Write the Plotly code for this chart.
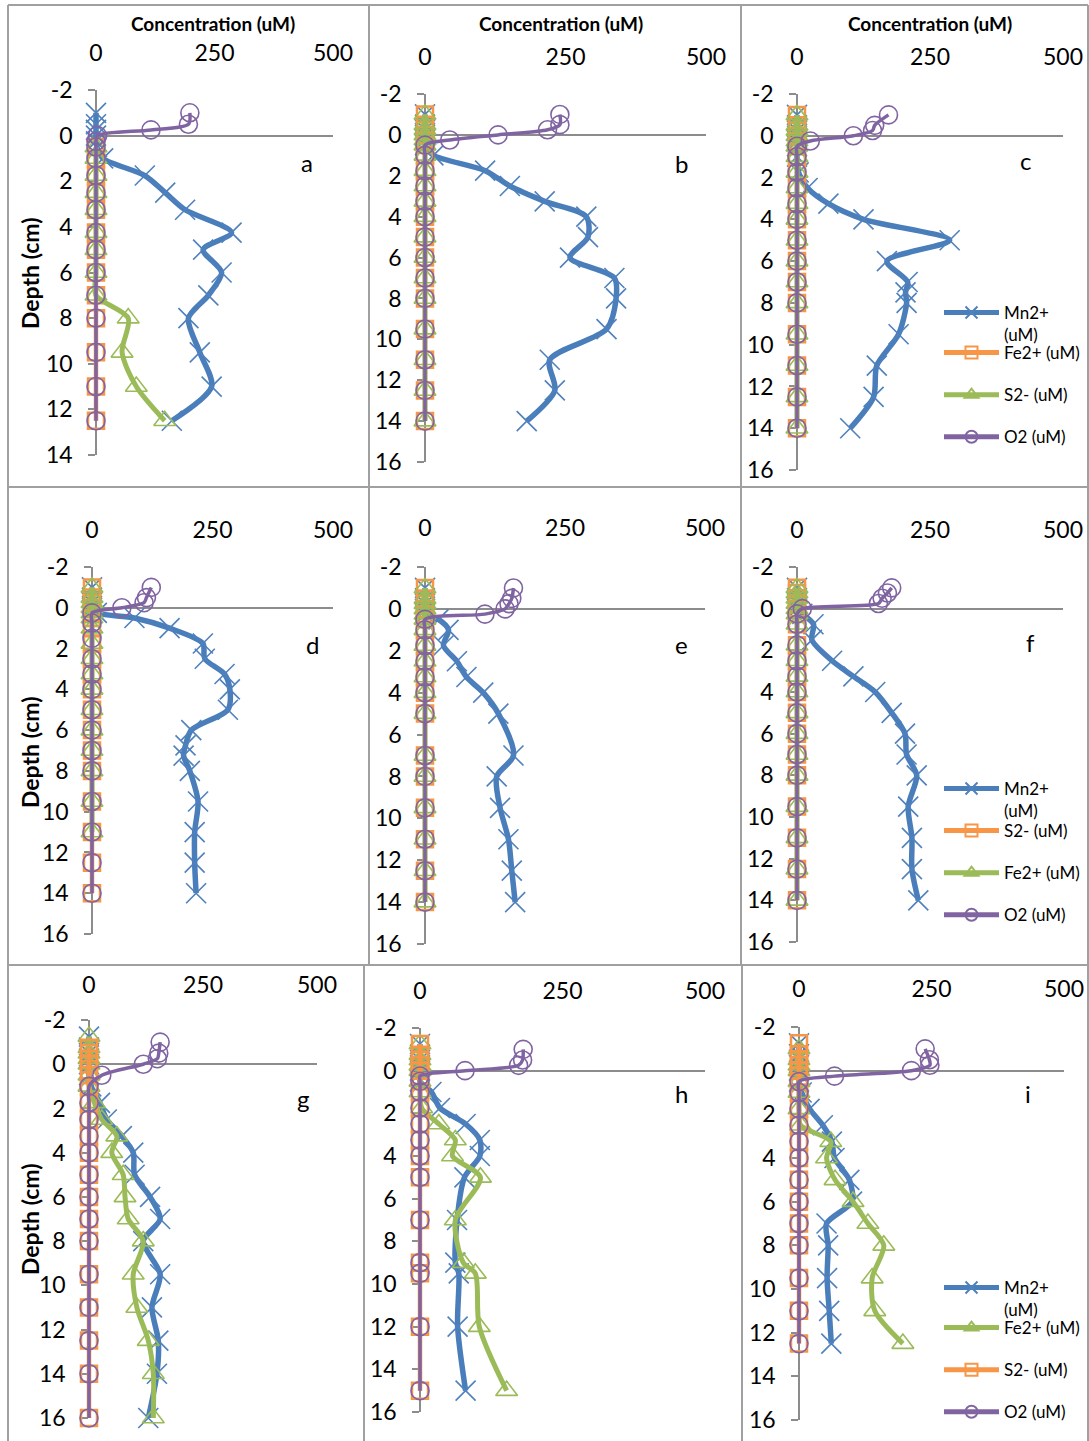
import plotly.graph_objects as go

W, H = 1089, 1441

# ---------------- data (depth in cm, concentration in uM) ----------------
# panel a
a_mn_depth = [-1, -0.5, -0.25, 0, 0.25, 0.5, 1, 1.75, 2.5, 3.25, 4.25, 5, 6, 7, 8, 9.5, 11, 12.5]
a_mn = [0, 0, 0, 0, 0, 2, 15, 103, 146, 188, 286, 226, 265, 237, 195, 219, 244, 160]
a_fe_depth = [0.5, 1, 1.75, 2.5, 3.25, 4.25, 5, 6, 7, 8, 9.5, 11, 12.5]
a_fe = [0, 0, 0, 0, 0, 0, 0, 0, 0, 0, 0, 0, 0]
a_s_depth = [0.5, 1, 1.75, 2.5, 3.25, 4.25, 5, 6, 7, 8, 9.5, 11, 12.5]
a_s = [0, 0, 0, 0, 0, 0, 0, 0, 0, 68, 55, 85, 145]
a_o2_depth = [-1, -0.5, -0.25, 0, 0.25, 0.5, 1, 1.75, 2.5, 3.25, 4.25, 5, 6, 7, 8, 9.5, 11, 12.5]
a_o2 = [198, 195, 116, 3, 0, 0, 0, 0, 0, 0, 0, 0, 0, 0, 0, 0, 0, 0]

# panel b
b_mn_depth = [-1, -0.5, -0.25, 0, 0.25, 0.5, 1, 1.75, 2.5, 3.25, 4, 5, 6, 7, 8, 9.5, 11, 12.5, 14]
b_mn = [0, 0, 0, 0, 0, 0, 15, 107, 151, 213, 287, 290, 258, 337, 340, 323, 222, 231, 181]
b_fe_depth = [-1, -0.5, -0.25, 0, 0.25, 0.5, 1, 1.75, 2.5, 3.25, 4, 5, 6, 7, 8, 9.5, 11, 12.5, 14]
b_fe = [0] * 19
b_s_depth = [-1, -0.5, -0.25, 0, 0.25, 0.5, 1, 1.75, 2.5, 3.25, 4, 5, 6, 7, 8, 9.5, 11, 12.5, 14]
b_s = [0] * 19
b_o2_depth = [-1, -0.5, -0.25, 0, 0.25, 0.5, 1, 1.75, 2.5, 3.25, 4, 5, 6, 7, 8, 9.5, 11, 12.5, 14]
b_o2 = [240, 240, 218, 130, 44, 0, 0, 0, 0, 0, 0, 0, 0, 0, 0, 0, 0, 0, 0]

# panel c
c_mn_depth = [-1, -0.5, -0.25, 0, 0.25, 0.5, 1, 1.75, 2.5, 3.25, 4, 5, 6, 7, 7.5, 8, 9.5, 11, 12.5, 14]
c_mn = [0, 0, 0, 0, 0, 0, 0, 3, 20, 59, 125, 287, 169, 208, 204, 206, 191, 150, 144, 100]
c_fe_depth = [-1, -0.5, -0.25, 0, 0.25, 0.5, 1, 1.75, 2.5, 3.25, 4, 5, 6, 7, 8, 9.5, 11, 12.5, 14]
c_fe = [0] * 19
c_s_depth = [-1, -0.5, -0.25, 0, 0.25, 0.5, 1, 1.75, 2.5, 3.25, 4, 5, 6, 7, 8, 9.5, 11, 12.5, 14]
c_s = [0] * 19
c_o2_depth = [-1, -0.5, -0.25, 0, 0.25, 0.5, 1, 1.75, 2.5, 3.25, 4, 5, 6, 7, 8, 9.5, 11, 12.5, 14]
c_o2 = [172, 146, 142, 106, 25, 0, 0, 0, 0, 0, 0, 0, 0, 0, 0, 0, 0, 0, 0]

# panel d
d_mn_depth = [-1, -0.5, -0.25, 0, 0.25, 0.5, 1, 1.75, 2.5, 3.25, 4, 5, 6, 6.75, 7.25, 8, 9.5, 11, 12.5, 14]
d_mn = [0, 0, 0, 0, 10, 88, 161, 230, 234, 275, 286, 282, 206, 194, 190, 203, 220, 213, 213, 216]
d_s_depth = [-1, -0.5, -0.25, 0, 0.25, 0.5, 1, 1.75, 2.5, 3.25, 4, 5, 6, 7, 8, 9.5, 11, 12.5, 14]
d_s = [0] * 19
d_fe_depth = [-1, -0.5, -0.25, 0, 0.25, 0.5, 1, 1.75, 2.5, 3.25, 4, 5, 6, 7, 8, 9.5, 11]
d_fe = [0] * 17
d_o2_depth = [-1, -0.5, -0.25, 0, 0.25, 0.75, 1.5, 2.5, 3.25, 4, 5, 6, 7, 8, 9.5, 11, 12.5, 14]
d_o2 = [123, 113, 108, 62, 0, 0, 0, 0, 0, 0, 0, 0, 0, 0, 0, 0, 0, 0]

# panel e
e_mn_depth = [-1, -0.5, -0.25, 0, 0.25, 0.5, 1, 1.75, 2.5, 3.25, 4, 5, 7, 8, 9.5, 11, 12.5, 14]
e_mn = [0, 0, 0, 0, 0, 24, 42, 33, 57, 74, 104, 131, 158, 128, 134, 149, 155, 161]
e_s_depth = [-1, -0.5, -0.25, 0, 0.25, 0.5, 1, 1.75, 2.5, 3.25, 4, 5, 7, 8, 9.5, 11, 12.5, 14]
e_s = [0] * 18
e_fe_depth = [-1, -0.5, -0.25, 0, 0.25, 0.5, 1, 1.75, 2.5, 3.25, 4, 5, 7, 8, 9.5, 11, 12.5, 14]
e_fe = [0] * 18
e_o2_depth = [-1, -0.5, -0.25, 0, 0.25, 0.5, 1, 1.75, 2.5, 3.25, 4, 5, 7, 8, 9.5, 11, 12.5, 14]
e_o2 = [158, 155, 150, 143, 107, 0, 0, 0, 0, 0, 0, 0, 0, 0, 0, 0, 0, 0]

# panel f
f_mn_depth = [-1, -0.5, -0.25, 0, 0.25, 0.75, 1.5, 2.5, 3.25, 4, 5, 6, 7, 8, 9.5, 11, 12.5, 14]
f_mn = [0, 0, 0, 0, 10, 31, 28, 66, 106, 147, 178, 203, 206, 225, 209, 216, 216, 228]
f_s_depth = [-1, -0.75, -0.5, -0.25, 0, 0.25, 0.75, 1.75, 2.5, 3.25, 4, 5, 6, 7, 8, 9.5, 11, 12.5, 14]
f_s = [0] * 19
f_fe_depth = [-1, -0.75, -0.5, -0.25, 0, 0.25, 0.75, 1.75, 2.5, 3.25, 4, 5, 6, 7, 8, 9.5, 11, 12.5, 14]
f_fe = [0] * 19
f_o2_depth = [-1, -0.75, -0.5, -0.25, 0, 0.25, 0.75, 1.75, 2.5, 3.25, 4, 5, 6, 7, 8, 9.5, 11, 12.5, 14]
f_o2 = [178, 170, 160, 153, 10, 0, 0, 0, 0, 0, 0, 0, 0, 0, 0, 0, 0, 0, 0]

# panel g
g_mn_depth = [-1.25, -0.75, -0.5, -0.25, 0, 0.5, 1, 1.75, 2.5, 3.25, 4, 5, 6, 7, 8, 9.5, 11, 12.5, 14, 16]
g_mn = [0, 0, 0, 0, 0, 0, 5, 24, 39, 72, 97, 100, 134, 156, 119, 156, 138, 152, 149, 130]
g_fe_depth = [-1.25, -0.75, -0.5, -0.25, 0, 0.5, 1, 1.75, 2.5, 3.25, 4, 5, 6, 7, 8, 9.5, 11, 12.5, 14, 16]
g_fe = [0, 0, 0, 0, 0, 0, 0, 12, 28, 61, 50, 75, 79, 86, 119, 97, 105, 130, 141, 141]
g_s_depth = [-0.75, -0.5, -0.25, 0, 0.5, 1, 1.75, 2.5, 3.25, 4, 5, 6, 7, 8, 9.5, 11, 12.5, 14, 16]
g_s = [0] * 19
g_o2_depth = [-1, -0.5, -0.25, 0, 0.5, 1, 1.75, 2.5, 3.25, 4, 5, 6, 7, 8, 9.5, 11, 12.5, 14, 16]
g_o2 = [156, 153, 150, 119, 28, 0, 0, 0, 0, 0, 0, 0, 0, 0, 0, 0, 0, 0, 0]

# panel h
h_mn_depth = [-1.25, -0.75, -0.5, -0.25, 0, 0.5, 1, 1.75, 2.5, 3.25, 4, 5, 7, 9, 9.5, 12, 15]
h_mn = [0, 0, 0, 0, 0, 0, 20, 35, 80, 105, 105, 78, 65, 62, 68, 66, 80]
h_fe_depth = [-1.25, -0.75, -0.5, -0.25, 0, 0.5, 1, 1.75, 2.5, 3.25, 4, 5, 7, 9, 9.5, 12, 15]
h_fe = [0, 0, 0, 0, 0, 0, 0, 3, 33, 62, 57, 106, 62, 76, 97, 104, 152]
h_s_depth = [-1.25, -0.75, -0.5, -0.25, 0, 0.5, 1, 1.75, 2.5, 3.25, 4, 5, 7, 9, 9.5, 12, 15]
h_s = [0] * 17
h_o2_depth = [-1, -0.5, -0.25, 0, 0.25, 0.5, 1, 1.75, 2.5, 3.25, 4, 5, 7, 9, 9.5, 12, 15]
h_o2 = [181, 180, 173, 79, 0, 0, 0, 0, 0, 0, 0, 0, 0, 0, 0, 0, 0]

# panel i
i_mn_depth = [-1.25, -0.75, -0.5, -0.25, 0, 0.5, 1, 1.75, 2.5, 3.25, 4, 5, 6, 7, 8, 9.5, 11, 12.5]
i_mn = [0, 0, 0, 0, 0, 0, 5, 20, 45, 62, 67, 95, 100, 52, 55, 53, 57, 61]
i_fe_depth = [-1, -0.5, -0.25, 0, 0.5, 1, 1.75, 2.5, 3.25, 4, 5, 6, 7, 8, 9.5, 11, 12.5]
i_fe = [0, 0, 0, 0, 0, 0, 0, 3, 60, 52, 68, 102, 130, 160, 138, 143, 196]
i_s_depth = [-1.25, -0.75, -0.5, -0.25, 0, 0.5, 1, 1.75, 2.5, 3.25, 4, 5, 6, 7, 8, 9.5, 11, 12.5]
i_s = [0] * 18
i_o2_depth = [-1, -0.5, -0.25, 0, 0.25, 0.5, 1, 1.75, 2.5, 3.25, 4, 5, 6, 7, 8, 9.5, 11, 12.5]
i_o2 = [238, 246, 247, 212, 67, 0, 0, 0, 0, 0, 0, 0, 0, 0, 0, 0, 0, 0]

x_ticks = [0, 250, 500]
x_tick_text = ["0", "250", "500"]
panel_labels = ["a", "b", "c", "d", "e", "f", "g", "h", "i"]

# series names in each row (in legend / plotting order) with their style keys
row1_series = [("Mn2+ (uM)", "blue"), ("Fe2+ (uM)", "orange"), ("S2- (uM)", "green"), ("O2 (uM)", "purple")]
row2_series = [("Mn2+ (uM)", "blue"), ("S2- (uM)", "orange"), ("Fe2+ (uM)", "green"), ("O2 (uM)", "purple")]
row3_series = [("Mn2+ (uM)", "blue"), ("Fe2+ (uM)", "green"), ("S2- (uM)", "orange"), ("O2 (uM)", "purple")]

panel_data = {
    "a": [(a_mn_depth, a_mn), (a_fe_depth, a_fe), (a_s_depth, a_s), (a_o2_depth, a_o2)],
    "b": [(b_mn_depth, b_mn), (b_fe_depth, b_fe), (b_s_depth, b_s), (b_o2_depth, b_o2)],
    "c": [(c_mn_depth, c_mn), (c_fe_depth, c_fe), (c_s_depth, c_s), (c_o2_depth, c_o2)],
    "d": [(d_mn_depth, d_mn), (d_s_depth, d_s), (d_fe_depth, d_fe), (d_o2_depth, d_o2)],
    "e": [(e_mn_depth, e_mn), (e_s_depth, e_s), (e_fe_depth, e_fe), (e_o2_depth, e_o2)],
    "f": [(f_mn_depth, f_mn), (f_s_depth, f_s), (f_fe_depth, f_fe), (f_o2_depth, f_o2)],
    "g": [(g_mn_depth, g_mn), (g_fe_depth, g_fe), (g_s_depth, g_s), (g_o2_depth, g_o2)],
    "h": [(h_mn_depth, h_mn), (h_fe_depth, h_fe), (h_s_depth, h_s), (h_o2_depth, h_o2)],
    "i": [(i_mn_depth, i_mn), (i_fe_depth, i_fe), (i_s_depth, i_s), (i_o2_depth, i_o2)],
}
row_series = {"a": row1_series, "b": row1_series, "c": row1_series,
              "d": row2_series, "e": row2_series, "f": row2_series,
              "g": row3_series, "h": row3_series, "i": row3_series}

# ---------------- styling / geometry ----------------
FONT = "Lato"
GRAY = "#8c8c8c"
BORDER = "#a0a0a0"
STYLE = {
    "blue":   dict(color="#4A7EBB", width=5.5, symbol="x-thin", size=20, mw=1.6, mcolor="#4F81BD"),
    "orange": dict(color="#F79646", width=4.5, symbol="square-open", size=16, mw=2.5, mcolor="#F79646"),
    "green":  dict(color="#9BBB59", width=5, symbol="triangle-up-open", size=19, mw=1.6, mcolor="#9BBB59"),
    "purple": dict(color="#8064A2", width=3.5, symbol="circle-open", size=18, mw=1.6, mcolor="#8064A2"),
}

# pixel geometry per panel: x of value 0, x of value 500, y of depth -2, y of max depth, max depth,
# y centre of top tick labels, letter position
GEOM = {
    "a": (96, 333, 90, 455, 14, 55, (307, 162)),
    "b": (425, 706, 94, 462, 16, 59, (681, 163)),
    "c": (797, 1063, 94, 470, 16, 59, (1025, 160)),
    "d": (92, 333, 567, 934, 16, 532, (312, 644)),
    "e": (425, 705, 567, 944, 16, 530, (681, 645)),
    "f": (797, 1063, 567, 942, 16, 532, (1030, 642)),
    "g": (89, 317, 1020, 1418, 16, 987, (303, 1098)),
    "h": (420, 705, 1028, 1412, 16, 993, (681, 1093)),
    "i": (799, 1064, 1027, 1420, 16, 991, (1028, 1093)),
}
LEGEND_PANELS = {"c": (313, 353), "f": (789, 831), "i": (1288, 1328)}


def px(x):
    return x / W


def py(y):
    return 1 - y / H


fig = go.Figure()
layout = {}
annotations = []
legend_count = 0

for n, key in enumerate(panel_labels, start=1):
    x0, x5, ytop, ybot, ymax, xlab, (lx, ly) = GEOM[key]
    xa = "x" if n == 1 else f"x{n}"
    ya = "y" if n == 1 else f"y{n}"
    in_legend = key in LEGEND_PANELS
    if in_legend:
        leg_mn = "legend" if legend_count == 0 else f"legend{legend_count + 1}"
        leg_rest = f"legend{legend_count + 2}"
        mn_y, rest_y = LEGEND_PANELS[key]
        common = dict(x=px(939), xanchor="left", yanchor="top", xref="container", yref="container",
                      bgcolor="rgba(0,0,0,0)", font=dict(family=FONT, size=17, color="#000"),
                      itemwidth=55, itemsizing="constant")
        layout[leg_mn] = dict(y=py(mn_y - 18), valign="top", **common)
        layout[leg_rest] = dict(y=py(rest_y - 18), tracegroupgap=17, **common)
        legend_count += 2
    for j, ((depths, vals), (name, skey)) in enumerate(zip(panel_data[key], row_series[key])):
        st = STYLE[skey]
        shown_name = name.replace("Mn2+ ", "Mn2+<br>") if j == 0 else name
        trace_kwargs = dict(
            x=vals, y=depths, xaxis=xa, yaxis=ya, mode="lines+markers",
            name=shown_name, showlegend=in_legend, legendgroup=f"{key}{j}",
            line=dict(color=st["color"], width=st["width"], shape="spline", smoothing=0.8),
            marker=dict(symbol=st["symbol"], size=st["size"], color=st["mcolor"],
                        line=dict(color=st["mcolor"], width=st["mw"])),
            cliponaxis=False,
        )
        if in_legend:
            trace_kwargs["legend"] = leg_mn if j == 0 else leg_rest
        fig.add_trace(go.Scatter(**trace_kwargs))

    upx = (x5 - x0) / 500.0
    xpad = 5 / upx
    yticks = list(range(-2, ymax + 1, 2))
    layout["xaxis" if n == 1 else f"xaxis{n}"] = dict(
        domain=[px(x0 - 5), px(x5)], range=[-xpad, 500], anchor="free",
        position=py(xlab + 11), side="top", showline=False, ticks="",
        tickvals=x_ticks, ticktext=x_tick_text, showgrid=False, zeroline=False,
        tickfont=dict(family=FONT, size=23, color="#000"), fixedrange=True)
    layout["yaxis" if n == 1 else f"yaxis{n}"] = dict(
        domain=[py(ybot), py(ytop)], range=[ymax, -2], anchor="free", position=px(x0),
        showline=True, linecolor=GRAY, linewidth=1.5, ticks="outside", ticklen=7,
        tickwidth=1.5, tickcolor=GRAY, tickvals=yticks, ticktext=[str(t) for t in yticks],
        showgrid=False, zeroline=True, zerolinecolor=GRAY, zerolinewidth=1.5,
        tickfont=dict(family=FONT, size=23, color="#000"), ticklabelstandoff=11,
        layer="below traces", fixedrange=True)
    annotations.append(dict(x=px(lx), y=py(ly), xref="paper", yref="paper", text=key,
                            xanchor="center", yanchor="middle", showarrow=False,
                            font=dict(family=FONT, size=24, color="#000")))

# axis titles
for cx in (213, 561, 930):
    annotations.append(dict(x=px(cx), y=py(23), xref="paper", yref="paper",
                            text="Concentration (uM)", showarrow=False,
                            xanchor="center", yanchor="middle",
                            font=dict(family=FONT, size=19, color="#000", weight="bold")))
for cy in (273, 752, 1219):
    annotations.append(dict(x=px(30), y=py(cy), xref="paper", yref="paper", text="Depth (cm)",
                            textangle=-90, showarrow=False, xanchor="center", yanchor="middle",
                            font=dict(family=FONT, size=23, color="#000", weight="bold")))

# panel border lines (pixel coordinates)
border_lines = [
    (8, 5, 1088, 5), (8, 487, 1088, 487), (8, 965, 1088, 965),
    (8, 5, 8, 1441), (369, 5, 369, 965), (741, 5, 741, 965),
    (364, 965, 364, 1441), (742, 965, 742, 1441), (1088, 5, 1088, 1441),
]
shapes = [dict(type="line", xref="paper", yref="paper", x0=px(a), y0=py(b), x1=px(c), y1=py(d),
               line=dict(color=BORDER, width=2)) for a, b, c, d in border_lines]

fig.update_layout(
    width=W, height=H, margin=dict(l=0, r=0, t=0, b=0, autoexpand=False),
    paper_bgcolor="white", plot_bgcolor="rgba(0,0,0,0)",
    font=dict(family=FONT, color="#000"),
    annotations=annotations, shapes=shapes,
    **layout,
)

fig.write_html("out.html")
